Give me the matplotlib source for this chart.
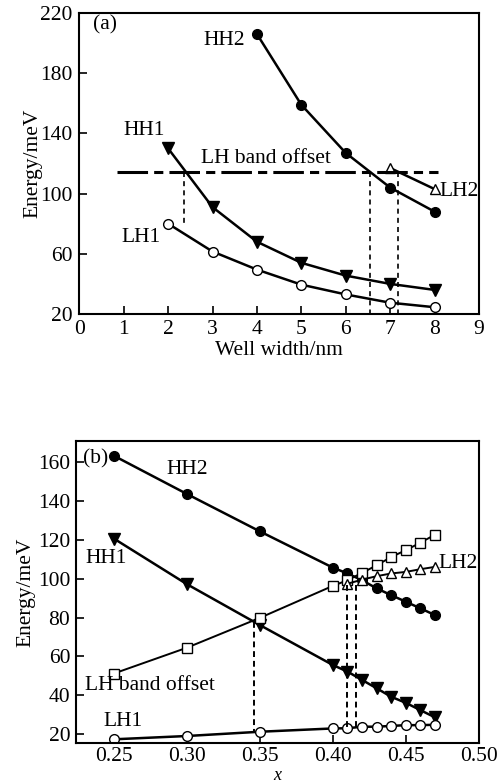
import numpy as np
import matplotlib
matplotlib.use("Agg")
import matplotlib.pyplot as plt

plt.rcParams['font.family'] = ['Liberation Serif', 'DejaVu Serif']
plt.rcParams['font.size'] = 15.5

# ---- panel (a): energy vs well width ----
w_hh2 = [4, 5, 6, 7, 8]
e_hh2 = [206, 159, 127, 104, 88]
w_hh1 = [2, 3, 4, 5, 6, 7, 8]
e_hh1 = [130, 91, 68, 54, 45.5, 40, 36]
w_lh1 = [2, 3, 4, 5, 6, 7, 8]
e_lh1 = [80, 61.5, 49.5, 39.5, 33, 27.5, 24.5]
w_lh2 = [7, 8]
e_lh2 = [117, 103]
offset_a = 114
cross_a = [2.35, 6.55, 7.18]
cross_a_low = [78, 20, 20]

# ---- panel (b): energy vs x ----
xb = [0.25, 0.30, 0.35, 0.40, 0.41, 0.42, 0.43, 0.44, 0.45, 0.46, 0.47]
b_hh2 = [163.5, 143.8, 124.5, 105.8, 102.8, 99.3, 95.1, 91.6, 88.2, 84.8, 81.3]
b_hh1 = [120.8, 97.3, 76.2, 55.6, 52.2, 47.9, 43.6, 39.2, 36.1, 32.3, 28.6]
b_off = [51.2, 64.5, 79.9, 96.4, 99.3, 103.1, 107, 111.3, 114.8, 118.7, 122.8]
b_lh1 = [17.3, 19, 21.2, 22.9, 23, 23.8, 23.8, 24.2, 24.6, 24.6, 24.8]
xb_lh2 = [0.41, 0.42, 0.43, 0.44, 0.45, 0.46, 0.47]
b_lh2 = [97.5, 99.6, 101.4, 102.8, 103.6, 105, 106.2]
cross_b = [0.346, 0.410, 0.416]
cross_b_top = [78, 97, 97]
cross_b_low = [21, 23, 23.5]

fig = plt.figure(figsize=(5.02, 7.84), dpi=100)
ax1 = fig.add_axes([0.158, 0.5995, 0.796, 0.384])
ax2 = fig.add_axes([0.151, 0.0523, 0.803, 0.385])

lw = 1.8
ms = 7

# panel (a)
ax1.plot(w_hh2, e_hh2, 'k-', marker='o', ms=ms, lw=lw)
ax1.plot(w_hh1, e_hh1, 'k-', marker='v', ms=ms + 1, lw=lw)
ax1.plot(w_lh1, e_lh1, 'k-', marker='o', mfc='white', mec='k', ms=ms, lw=lw)
ax1.plot(w_lh2, e_lh2, 'k-', marker='^', mfc='white', mec='k', ms=ms, lw=lw)
ax1.plot([0.86, 8.07], [offset_a, offset_a], color='k', lw=2.2, dashes=(10, 2, 3, 2))
for xc, yl in zip(cross_a, cross_a_low):
    ax1.plot([xc, xc], [offset_a, yl], 'k', lw=1.2, dashes=(3, 2.5))

ax1.set_xlim(0, 9)
ax1.set_ylim(20, 220)
ax1.set_xticks(range(0, 10))
ax1.set_yticks([20, 60, 100, 140, 180, 220])
ax1.tick_params(direction='in', length=6, width=1.2, top=False, right=False)
ax1.tick_params(axis='x', pad=4)
ax1.tick_params(axis='y', pad=5)
ax1.set_xlabel('Well width/nm', labelpad=2)
ax1.set_ylabel('Energy/meV', labelpad=-2)
ax1.text(0.3, 212, '(a)', ha='left', va='center')
ax1.text(3.27, 202, 'HH2', ha='center', va='center')
ax1.text(1.47, 142, 'HH1', ha='center', va='center')
ax1.text(4.2, 123, 'LH band offset', ha='center', va='center')
ax1.text(1.4, 71, 'LH1', ha='center', va='center')
ax1.text(8.55, 101.5, 'LH2', ha='center', va='center')

# panel (b)
ax2.plot(xb, b_hh2, 'k-', marker='o', ms=ms, lw=lw)
ax2.plot(xb, b_hh1, 'k-', marker='v', ms=ms + 1, lw=lw)
ax2.plot(xb, b_off, 'k-', marker='s', mfc='white', mec='k', ms=ms, lw=lw - 0.4)
ax2.plot(xb_lh2, b_lh2, 'k-', marker='^', mfc='white', mec='k', ms=ms, lw=lw - 0.4)
ax2.plot(xb, b_lh1, 'k-', marker='o', mfc='white', mec='k', ms=ms, lw=lw)
for xc, yt, yl in zip(cross_b, cross_b_top, cross_b_low):
    ax2.plot([xc, xc], [yt, yl], 'k', lw=1.4, dashes=(3, 2))

ax2.set_xlim(0.224, 0.5)
ax2.set_ylim(15.4, 171)
ax2.set_xticks([0.25, 0.30, 0.35, 0.40, 0.45, 0.50])
ax2.set_xticklabels(['0.25', '0.30', '0.35', '0.40', '0.45', '0.50'])
ax2.set_yticks(range(20, 161, 20))
ax2.tick_params(direction='in', length=6, width=1.2, top=False, right=False)
ax2.tick_params(axis='x', pad=3)
ax2.tick_params(axis='y', pad=4)
ax2.set_ylabel('Energy/meV', labelpad=2)
fig.text(0.552, 0.0112, 'x', style='italic', fontsize=13, ha='center', va='center')
ax2.text(0.229, 162, '(b)', ha='left', va='center')
ax2.text(0.300, 156.5, 'HH2', ha='center', va='center')
ax2.text(0.2445, 110.6, 'HH1', ha='center', va='center')
ax2.text(0.2747, 45.2, 'LH band offset', ha='center', va='center')
ax2.text(0.256, 26.5, 'LH1', ha='center', va='center')
ax2.text(0.486, 108, 'LH2', ha='center', va='center')

for ax in (ax1, ax2):
    for s in ax.spines.values():
        s.set_linewidth(1.5)

fig.savefig('out.png', dpi=100)
